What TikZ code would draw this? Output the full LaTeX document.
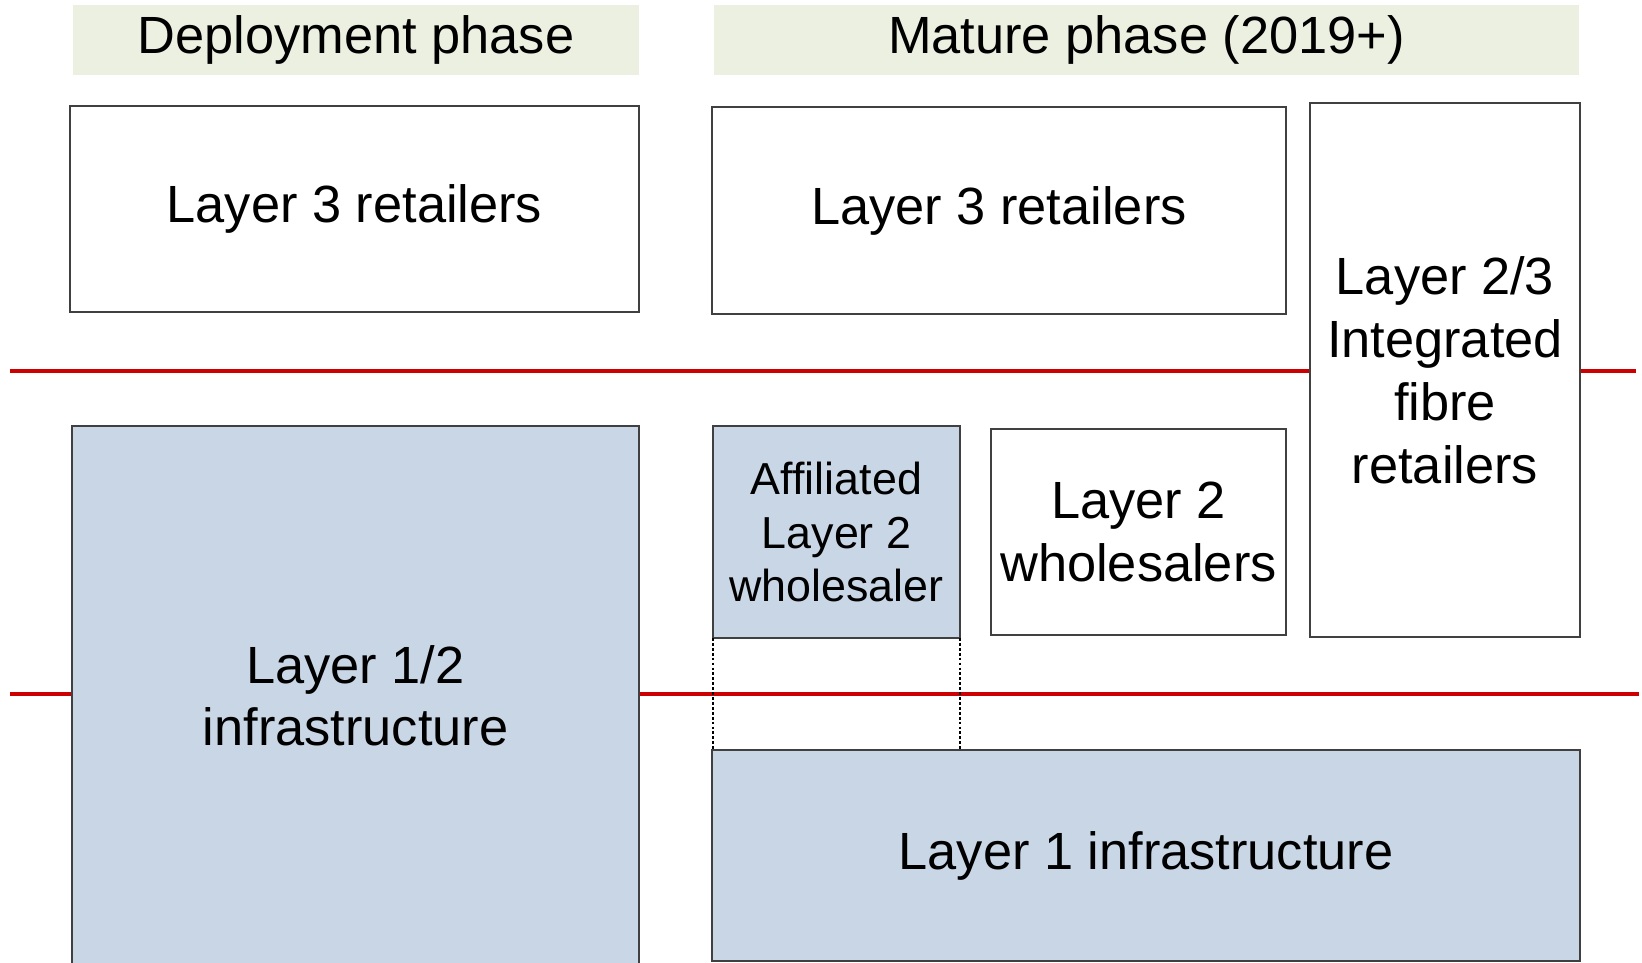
\documentclass[tikz,border=0pt]{standalone}
\usepackage{fontspec}
\setmainfont{Liberation Sans}
\definecolor{headfill}{HTML}{ECF0E0}
\definecolor{infrafill}{HTML}{C9D6E6}
\definecolor{layerred}{HTML}{CC0000}

\begin{document}
\begin{tikzpicture}[
    every node/.style={inner sep=0pt, outer sep=0pt, align=center,
      font=\fontsize{29.8}{35.8}\selectfont},
    phasehead/.style={rectangle, fill=headfill, draw=none},
    layerbox/.style={rectangle, draw=black!75, line width=1.4pt, fill=white},
    infrabox/.style={layerbox, fill=infrafill}
  ]
  \useasboundingbox (0,0) rectangle (32.84,-19.26);
  \fill[white] (0,0) rectangle (32.84,-19.26);
  % layer boundaries
  \coordinate (redA1) at (0.2,-7.42);
  \coordinate (redA2) at (32.72,-7.42);
  \coordinate (redB1) at (0.2,-13.88);
  \coordinate (redB2) at (32.78,-13.88);
  \draw[layerred, line width=1.8pt] (redA1) -- (redA2);
  \draw[layerred, line width=1.8pt] (redB1) -- (redB2);
  % phase headings
  \node[phasehead, minimum width=11.32cm, minimum height=1.4cm] (deploy) at (7.12,-0.80) {Deployment phase};
  \node[phasehead, minimum width=17.30cm, minimum height=1.4cm] (mature) at (22.93,-0.80) {Mature phase (2019+)};
  % deployment phase
  \node[layerbox, minimum width=11.38cm, minimum height=4.12cm] (retailL) at (7.09,-4.18) {Layer 3 retailers};
  \node[infrabox, minimum width=11.34cm, minimum height=10.79cm] (infraL) at (7.11,-13.915) {Layer 1/2\\infrastructure};
  % mature phase
  \node[layerbox, minimum width=11.48cm, minimum height=4.14cm] (retailR) at (19.98,-4.21) {Layer 3 retailers};
  \node[layerbox, minimum width=5.40cm, minimum height=10.68cm] (integ) at (28.90,-7.40) {Layer 2/3\\Integrated\\fibre\\retailers};
  \node[infrabox, minimum width=4.94cm, minimum height=4.24cm,
    font=\fontsize{25.5}{30.6}\selectfont] (affil) at (16.73,-10.64) {Affiliated\\Layer 2\\wholesaler};
  \node[layerbox, minimum width=5.90cm, minimum height=4.12cm] (whole) at (22.77,-10.64) {Layer 2\\wholesalers};
  \node[infrabox, minimum width=17.36cm, minimum height=4.22cm] (infraR) at (22.92,-17.11) {Layer 1 infrastructure};
  \draw[black, line width=1.1pt, dash pattern=on 1.6pt off 1.2pt] (affil.south west) -- (affil.south west |- infraR.north);
  \draw[black, line width=1.1pt, dash pattern=on 1.6pt off 1.2pt] (affil.south east) -- (affil.south east |- infraR.north);
\end{tikzpicture}
\end{document}
